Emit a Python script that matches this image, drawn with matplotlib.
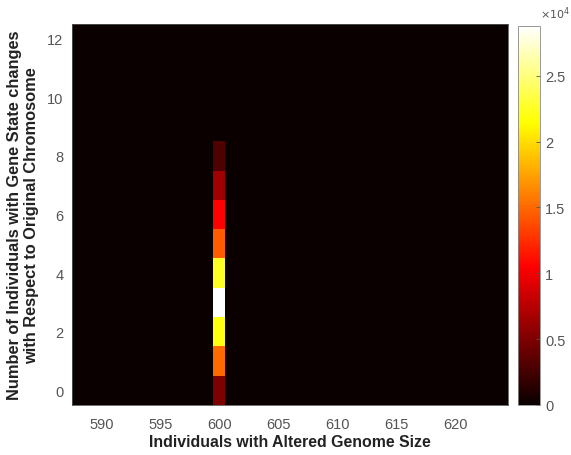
import numpy as np
import matplotlib.pyplot as plt
plt.switch_backend('agg')

plt.rcParams['font.family'] = ['Liberation Sans', 'DejaVu Sans']

# genome sizes (x cells) and number of gene-state changes (y cells)
genome_sizes = list(range(588, 625))
state_changes = list(range(0, 13))

# counts in the only populated column (genome size 600), rows 0..8
peak_size = 600
peak_counts = [5000, 15000, 22000, 28800, 22500, 14500, 10500, 6300, 3000]

cbar_ticks = [0, 5000, 10000, 15000, 20000, 25000]
cbar_labels = ['0', '0.5', '1', '1.5', '2', '2.5']
xticks = [590, 595, 600, 605, 610, 615, 620]
yticks = [0, 2, 4, 6, 8, 10, 12]

grid = np.zeros((len(state_changes), len(genome_sizes)))
col = genome_sizes.index(peak_size)
for row, c in enumerate(peak_counts):
    grid[row, col] = c

xs = np.array(genome_sizes)
ys = np.array(state_changes)
xe = np.append(xs - 0.5, xs[-1] + 0.5)
ye = np.append(ys - 0.5, ys[-1] + 0.5)

fig = plt.figure(figsize=(5.71, 4.56), dpi=100)
ax = fig.add_axes([0.126, 0.110, 0.764, 0.835])
cax = fig.add_axes([0.907, 0.110, 0.039, 0.831])

mesh = ax.pcolormesh(xe, ye, grid, cmap='hot', vmin=0, vmax=max(peak_counts))
ax.set_xlim(xe[0], xe[-1])
ax.set_ylim(ye[0], ye[-1])

tick_col = '#555555'
ax.set_xticks(xticks)
ax.set_yticks(yticks)
ax.tick_params(axis='x', length=0, labelsize=10.5, colors=tick_col, pad=9)
ax.tick_params(axis='y', length=0, labelsize=10.5, colors=tick_col, pad=6)
for s in ax.spines.values():
    s.set_color('#555555')
    s.set_linewidth(0.6)

ax.set_xlabel('Individuals with Altered Genome Size', fontsize=11.4,
              fontweight='bold', labelpad=2, color='#222222')
ax.set_ylabel('Number of Individuals with Gene State changes\nwith Respect to Original Chromosome',
              fontsize=11.8, fontweight='bold', labelpad=6, color='#222222')

cb = fig.colorbar(mesh, cax=cax, ticks=cbar_ticks)
cb.ax.set_yticklabels(cbar_labels)
cb.ax.tick_params(labelsize=10.5, colors=tick_col, length=3, width=0.6,
                  direction='in')
cb.outline.set_edgecolor('#888888')
cb.outline.set_linewidth(0.6)
cax.text(1.0, 1.012, r'$\times10^4$', transform=cax.transAxes, fontsize=8,
         color=tick_col, ha='left', va='bottom')

fig.savefig('out.png', dpi=100)
